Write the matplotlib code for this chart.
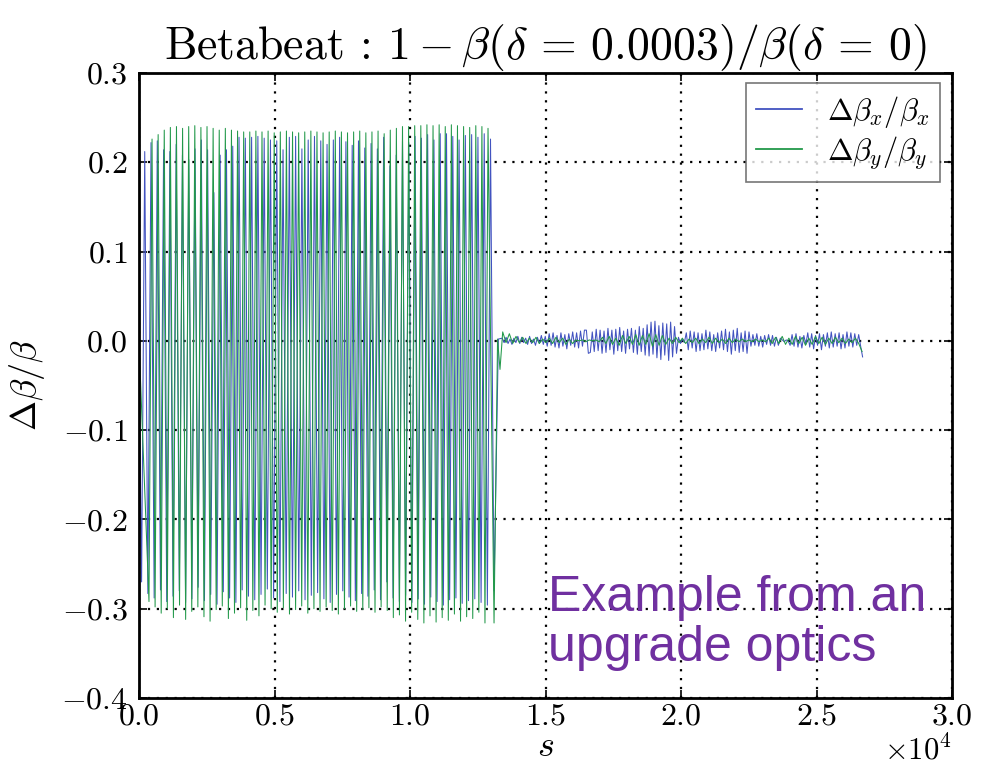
import numpy as np
import matplotlib
matplotlib.use("Agg")
import matplotlib.pyplot as plt

# Betabeat along the ring, values in units of 1e-3
# Arc region: alternating troughs/peaks of the beating
bx_peaks = [212, 222, 224, 214, 212, 220, 208, 203, 215, 225, 214, 166, 208, 214,
            218, 228, 227, 228, 229, 227, 225, 224, 214, 228, 229, 215, 225, 229,
            224, 220, 225, 228, 223, 219, 224, 216, 221, 215, 228, 196, 208, 224,
            222, 229, 227, 231, 225, 232, 232, 229, 225, 230, 231, 228, 232, 226]
bx_troughs = [-270, -283, -288, -279, -292, -286, -280, -293, -289, -276, -291, -284,
              -295, -281, -288, -293, -279, -286, -290, -284, -278, -288, -292, -283,
              -287, -280, -290, -285, -282, -289, -293, -284, -280, -287, -291, -283,
              -286, -279, -290, -270, -288, -292, -285, -293, -289, -295, -287, -292,
              -296, -290, -288, -294, -291, -289, -293, -296]
by_peaks = [226, 231, 236, 239, 240, 238, 240, 241, 239, 240, 238, 236, 238, 236,
            235, 234, 234, 235, 234, 235, 233, 234, 235, 234, 233, 234, 235, 234,
            233, 234, 235, 234, 233, 234, 235, 233, 234, 235, 232, 236, 238, 240,
            240, 241, 241, 242, 241, 242, 240, 242, 241, 240, 239, 241, 240, 238]
by_troughs = [-292, -298, -305, -300, -310, -296, -312, -303, -298, -309, -314, -301,
              -297, -311, -305, -299, -313, -302, -308, -296, -300, -304, -299, -306,
              -301, -297, -305, -300, -303, -298, -302, -306, -300, -297, -303, -301,
              -299, -304, -298, -302, -310, -307, -314, -304, -312, -316, -308, -315,
              -310, -313, -306, -314, -309, -311, -304, -316]

# s range [m] covered by the arc oscillations (first trough .. last peak)
bx_arc_s = (95, 12970)
by_arc_s = (368, 12878)

# exit of the arc into the straight section
bx_exit_s = [13100, 13260]
bx_exit = [-280, 2]
by_exit_s = [13100, 13230, 13320]
by_exit = [-316, 2, -32]

# residual beating after the arc
bx_tail_s = (13400, 26700)
bx_tail = [3, -2, 4, -3, 2, -4, 3, -2, 5, -3, 4, -2, 3, -4, 5, -3, 2, -5, 4, -3, 6, -4, 5,
           -6, 8, -5, 9, -7, 6, -8, 9, -6, 7, -9, 8, -5, 10, -7, 9, -8, 11, -6,
           12, 12, -14, -13, 10, -12,
           13, -11, 12, -14, 11, -13, 14, -10, 12, -15, 13, -11, 15, -12, 11, -14, 13,
           -9, 14, -13, 12, -15, 16, -12, 14, -16,
           18, -17, 21, -15, 22, -19, 17, -21, 20, -16, 19, -22, 21, -18, 16, -14,
           4, -3, 2, -2,
           9, -10, 11, -8, 10, -12, 9, -11, 8, -10, 12, -9, 10, -11, 7, -12, 9, -8, 11, -10,
           13, -12, 10, -15, 12, -11, 14, -13, 9, -12, 11, -14, 10,
           -6, 7, -5, 8, -6, 5, -7, 6, -4, 7, -5, 6, -6, 4, -5, 3,
           1, -1, 1, 0,
           -5, 7, -6, 8, -7, 5, -8, 6, -4, 9, -7, 8, -9, 6, -5, 8, -10, 7, -6, 9, -8, 10,
           -7, 8, -6, 9, -9, 7, -8, 10, -6, 9, -7, 8, -5, 7, -6,
           -18]
by_tail_s = (13420, 26680)
by_tail = [10, -2, 8, -3, 5, -2, 4, -3, 3, -2, 4, -3, 2, -2, 3, -3, 4, -2, 3, -4, 2, -3,
           1, 0, 1, -1, 1, 0, 1, -1,
           4, -3, 5, -4, 3, -5, 6, -3, 5, -4, 7, -5, 6, -4, 8, -6, 7, -5, 6, -4,
           3, -3, 4, -2, 3, -3, 2, -2, 3, -3, 2, -2, 4, -3, 3, -2, 2, -3, 3, -2,
           2, -1, 2, -1, 1, -1, 2, -1, 1, -1,
           3, -3, 4, -3, 5, -4, 3, -4, 5, -3, 4, -5, 3, -4, 5, -3, 4, -4, 3, -3, 4, -2,
           3, -3, 2, -2, 3, -3,
           -12]

y_ticks = [-0.4, -0.3, -0.2, -0.1, 0.0, 0.1, 0.2, 0.3]
x_ticks = [0, 5000, 10000, 15000, 20000, 25000, 30000]


def build_series(peaks, troughs, arc_s, exit_s, exit_v, tail_s, tail):
    # interleave trough/peak pairs over the arc, then append exit and tail
    arc = np.empty(2 * len(peaks))
    arc[0::2] = troughs
    arc[1::2] = peaks
    s = np.concatenate([[0.0], np.linspace(arc_s[0], arc_s[1], len(arc)),
                        exit_s, np.linspace(tail_s[0], tail_s[1], len(tail))])
    v = np.concatenate([[0.0], arc, exit_v, tail]) / 1000.0
    return s, v


s_x, beat_x = build_series(bx_peaks, bx_troughs, bx_arc_s, bx_exit_s, bx_exit,
                           bx_tail_s, bx_tail)
s_y, beat_y = build_series(by_peaks, by_troughs, by_arc_s, by_exit_s, by_exit,
                           by_tail_s, by_tail)

plt.rcParams["font.family"] = "serif"
plt.rcParams["font.serif"] = ["cmr10"]
plt.rcParams["mathtext.fontset"] = "cm"
plt.rcParams["axes.formatter.use_mathtext"] = True
plt.rcParams["axes.unicode_minus"] = True

fig = plt.figure(figsize=(9.88, 7.65), dpi=100)
ax = fig.add_axes([0.1407, 0.0876, 0.8229, 0.817])

ax.plot(s_x, beat_x, color="#4253c0", lw=0.75, label=r"$\Delta\beta_x/\beta_x$")
ax.plot(s_y, beat_y, color="#22994a", lw=0.75, label=r"$\Delta\beta_y/\beta_y$")

ax.set_xlim(0, 30000)
ax.set_ylim(-0.4, 0.3)
ax.set_xticks(x_ticks)
ax.set_yticks(y_ticks)
ax.ticklabel_format(axis="x", style="sci", scilimits=(0, 0), useMathText=True)
ax.xaxis.get_offset_text().set_fontsize(22)

ax.grid(True, color="black", linestyle=(0, (1, 3)), linewidth=1.6)
ax.tick_params(direction="in", top=True, right=True, length=6, width=1.2,
               labelsize=23)
ax.tick_params(axis="x", pad=4)
ax.tick_params(axis="y", pad=8)
for spine in ax.spines.values():
    spine.set_linewidth(2)

ax.set_title(r"Betabeat : $1-\beta(\delta\,=\,0.0003)/\beta(\delta\,=\,0)$",
             fontsize=33, pad=10)
ax.set_xlabel(r"$s$", fontsize=26, labelpad=0)
ax.set_ylabel(r"$\Delta\beta/\beta$", fontsize=26, labelpad=10)

leg = ax.legend(loc="upper right", fontsize=22, fancybox=False,
                handlelength=1.5, borderpad=0.35, labelspacing=0.15,
                borderaxespad=0, bbox_to_anchor=(0.985, 0.984))
leg.get_frame().set_edgecolor("#555555")
leg.get_frame().set_linewidth(1.2)
for handle in leg.get_lines():
    handle.set_linewidth(1.3)

ax.text(0.503, 0.197, "Example from an\nupgrade optics", transform=ax.transAxes,
        ha="left", va="top", fontsize=36, color="#7030a0",
        family="Liberation Sans", linespacing=1.12)

fig.savefig("out.png", dpi=100)
plt.close(fig)
